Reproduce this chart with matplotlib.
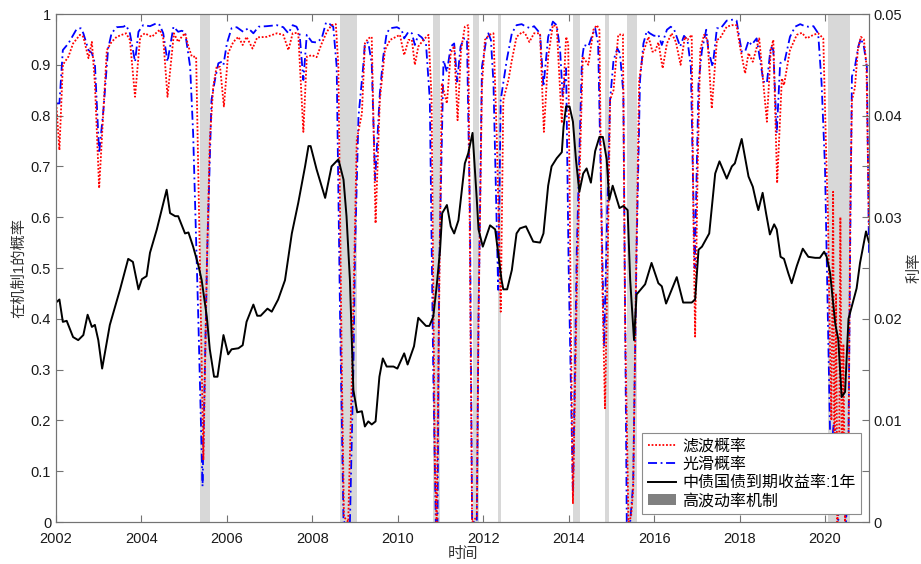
import numpy as np
import matplotlib
matplotlib.use('Agg')
import matplotlib.pyplot as plt
from matplotlib.patches import Patch
from matplotlib.lines import Line2D

plt.rcParams['font.family'] = ['Liberation Sans', 'Noto Sans CJK SC']

# 中债国债到期收益率:1年 (%)
rate_t = [2002.00, 2002.08, 2002.16, 2002.25, 2002.40, 2002.52, 2002.64, 2002.74, 2002.84, 2002.91,
          2002.99, 2003.08, 2003.26, 2003.50, 2003.69, 2003.80, 2003.93, 2004.01, 2004.12, 2004.20,
          2004.36, 2004.59, 2004.67, 2004.79, 2004.86, 2005.02, 2005.10, 2005.21, 2005.33, 2005.41,
          2005.53, 2005.60, 2005.70, 2005.78, 2005.92, 2006.03, 2006.11, 2006.27, 2006.37, 2006.46,
          2006.62, 2006.71, 2006.79, 2006.95, 2007.05, 2007.20, 2007.36, 2007.52, 2007.67, 2007.83,
          2007.91, 2007.96, 2008.10, 2008.30, 2008.45, 2008.61, 2008.73, 2008.80, 2008.88, 2008.96,
          2009.05, 2009.16, 2009.23, 2009.31, 2009.39, 2009.48, 2009.57, 2009.65, 2009.74, 2009.90,
          2009.99, 2010.15, 2010.23, 2010.38, 2010.48, 2010.66, 2010.74, 2010.83, 2010.91, 2010.99,
          2011.04, 2011.15, 2011.24, 2011.32, 2011.42, 2011.50, 2011.57, 2011.65, 2011.75, 2011.85,
          2011.89, 2011.99, 2012.16, 2012.28, 2012.35, 2012.43, 2012.47, 2012.56, 2012.67, 2012.78,
          2012.86, 2013.00, 2013.17, 2013.33, 2013.41, 2013.52, 2013.60, 2013.72, 2013.84, 2013.88,
          2013.94, 2014.02, 2014.10, 2014.17, 2014.25, 2014.34, 2014.42, 2014.52, 2014.62, 2014.72,
          2014.80, 2014.89, 2014.95, 2015.03, 2015.19, 2015.28, 2015.38, 2015.44, 2015.53, 2015.59,
          2015.79, 2015.94, 2016.10, 2016.18, 2016.28, 2016.53, 2016.68, 2016.88, 2016.96, 2017.04,
          2017.12, 2017.29, 2017.43, 2017.53, 2017.70, 2017.82, 2017.89, 2018.05, 2018.21, 2018.31,
          2018.39, 2018.44, 2018.54, 2018.62, 2018.71, 2018.81, 2018.87, 2018.96, 2019.04, 2019.14,
          2019.22, 2019.34, 2019.48, 2019.61, 2019.77, 2019.88, 2019.98, 2020.04, 2020.12, 2020.24,
          2020.31, 2020.39, 2020.47, 2020.55, 2020.74, 2020.82, 2020.96, 2021.03]
rate_pct = [2.16, 2.19, 1.97, 1.98, 1.82, 1.79, 1.84, 2.04, 1.92, 1.94,
            1.79, 1.51, 1.94, 2.29, 2.59, 2.56, 2.29, 2.39, 2.42, 2.65,
            2.88, 3.27, 3.04, 3.01, 3.01, 2.84, 2.85, 2.71, 2.53, 2.38,
            2.02, 1.70, 1.43, 1.43, 1.84, 1.65, 1.70, 1.71, 1.74, 1.97,
            2.14, 2.03, 2.03, 2.10, 2.07, 2.19, 2.38, 2.84, 3.14, 3.50,
            3.70, 3.70, 3.47, 3.19, 3.50, 3.57, 3.37, 3.01, 2.38, 1.30,
            1.08, 1.09, 0.94, 0.99, 0.96, 0.99, 1.43, 1.61, 1.53, 1.53,
            1.51, 1.66, 1.55, 1.73, 2.01, 1.93, 1.93, 2.02, 2.32, 2.68,
            3.04, 3.12, 2.91, 2.84, 2.97, 3.27, 3.53, 3.63, 3.83, 3.17,
            2.88, 2.71, 2.92, 2.88, 2.65, 2.38, 2.29, 2.29, 2.48, 2.84,
            2.89, 2.91, 2.76, 2.75, 2.84, 3.31, 3.50, 3.58, 3.64, 3.89,
            4.09, 4.09, 3.94, 3.57, 3.25, 3.43, 3.48, 3.34, 3.65, 3.79,
            3.79, 3.57, 3.17, 3.31, 3.09, 3.11, 3.07, 2.38, 1.79, 2.24,
            2.34, 2.55, 2.35, 2.32, 2.15, 2.41, 2.16, 2.16, 2.19, 2.68,
            2.71, 2.84, 3.43, 3.55, 3.38, 3.50, 3.53, 3.77, 3.40, 3.30,
            3.15, 3.07, 3.24, 3.04, 2.83, 2.93, 2.88, 2.61, 2.59, 2.45,
            2.35, 2.52, 2.69, 2.61, 2.60, 2.60, 2.66, 2.61, 2.45, 1.95,
            1.80, 1.23, 1.28, 2.00, 2.30, 2.55, 2.86, 2.75]

# 光滑概率
smooth_t = [2002.00, 2002.08, 2002.16, 2002.29, 2002.48, 2002.58, 2002.64, 2002.76, 2002.84, 2002.91,
            2003.01, 2003.11, 2003.22, 2003.30, 2003.42, 2003.58, 2003.64, 2003.73, 2003.85, 2003.93,
            2004.04, 2004.20, 2004.36, 2004.43, 2004.51, 2004.61, 2004.75, 2004.86, 2004.94, 2005.02,
            2005.14, 2005.21, 2005.33, 2005.43, 2005.54, 2005.64, 2005.72, 2005.80, 2005.88, 2005.92,
            2006.00, 2006.11, 2006.23, 2006.38, 2006.50, 2006.62, 2006.74, 2006.93, 2007.17, 2007.32,
            2007.44, 2007.54, 2007.63, 2007.70, 2007.79, 2007.87, 2007.99, 2008.10, 2008.22, 2008.32,
            2008.41, 2008.49, 2008.57, 2008.65, 2008.73, 2008.88, 2008.96, 2009.00, 2009.08, 2009.19,
            2009.23, 2009.31, 2009.39, 2009.47, 2009.58, 2009.66, 2009.74, 2009.82, 2009.98, 2010.09,
            2010.15, 2010.25, 2010.33, 2010.40, 2010.48, 2010.56, 2010.66, 2010.75, 2010.83, 2010.89,
            2010.93, 2010.97, 2011.07, 2011.15, 2011.24, 2011.32, 2011.39, 2011.47, 2011.55, 2011.62,
            2011.69, 2011.74, 2011.85, 2011.89, 2011.97, 2012.07, 2012.12, 2012.18, 2012.24, 2012.35,
            2012.41, 2012.55, 2012.67, 2012.78, 2012.90, 2012.98, 2013.10, 2013.19, 2013.33, 2013.41,
            2013.52, 2013.63, 2013.72, 2013.80, 2013.86, 2013.94, 2014.00, 2014.10, 2014.19, 2014.31,
            2014.36, 2014.46, 2014.54, 2014.62, 2014.69, 2014.77, 2014.83, 2014.90, 2014.97, 2015.05,
            2015.14, 2015.20, 2015.28, 2015.36, 2015.44, 2015.51, 2015.59, 2015.67, 2015.75, 2015.83,
            2015.90, 2016.00, 2016.10, 2016.18, 2016.30, 2016.39, 2016.47, 2016.61, 2016.70, 2016.78,
            2016.86, 2016.95, 2017.04, 2017.12, 2017.22, 2017.27, 2017.37, 2017.47, 2017.56, 2017.70,
            2017.85, 2017.93, 2018.05, 2018.13, 2018.21, 2018.28, 2018.40, 2018.56, 2018.64, 2018.73,
            2018.79, 2018.87, 2018.95, 2019.06, 2019.18, 2019.30, 2019.42, 2019.53, 2019.61, 2019.73,
            2019.84, 2019.92, 2020.00, 2020.08, 2020.12, 2020.16, 2020.20, 2020.24, 2020.31, 2020.35,
            2020.39, 2020.43, 2020.49, 2020.54, 2020.59, 2020.63, 2020.70, 2020.78, 2020.84, 2020.91,
            2020.98, 2021.03]
smooth_p = [0.824, 0.824, 0.929, 0.942, 0.970, 0.972, 0.962, 0.929, 0.923, 0.903,
            0.726, 0.811, 0.932, 0.962, 0.974, 0.975, 0.978, 0.962, 0.906, 0.965,
            0.978, 0.976, 0.982, 0.978, 0.962, 0.906, 0.975, 0.965, 0.967, 0.965,
            0.896, 0.765, 0.404, 0.070, 0.535, 0.831, 0.870, 0.903, 0.906, 0.900,
            0.942, 0.972, 0.974, 0.965, 0.972, 0.962, 0.975, 0.976, 0.978, 0.974,
            0.962, 0.978, 0.975, 0.962, 0.870, 0.959, 0.945, 0.944, 0.952, 0.983,
            0.980, 0.975, 0.896, 0.400, 0.000, 0.000, 0.300, 0.535, 0.798, 0.896,
            0.942, 0.944, 0.903, 0.673, 0.844, 0.916, 0.962, 0.972, 0.974, 0.969,
            0.952, 0.965, 0.962, 0.939, 0.959, 0.954, 0.942, 0.831, 0.300, 0.000,
            0.000, 0.500, 0.909, 0.886, 0.936, 0.942, 0.867, 0.936, 0.952, 0.950,
            0.600, 0.000, 0.000, 0.400, 0.896, 0.949, 0.962, 0.949, 0.864, 0.457,
            0.831, 0.909, 0.962, 0.978, 0.980, 0.976, 0.972, 0.976, 0.962, 0.857,
            0.955, 0.985, 0.978, 0.929, 0.837, 0.893, 0.500, 0.053, 0.535, 0.909,
            0.939, 0.936, 0.955, 0.972, 0.942, 0.600, 0.345, 0.600, 0.831, 0.909,
            0.932, 0.923, 0.844, 0.000, 0.000, 0.076, 0.535, 0.870, 0.942, 0.967,
            0.962, 0.957, 0.959, 0.939, 0.969, 0.975, 0.969, 0.936, 0.957, 0.949,
            0.896, 0.500, 0.864, 0.929, 0.969, 0.929, 0.896, 0.972, 0.972, 0.987,
            0.989, 0.987, 0.926, 0.926, 0.947, 0.939, 0.952, 0.867, 0.864, 0.936,
            0.929, 0.765, 0.903, 0.909, 0.955, 0.975, 0.980, 0.976, 0.975, 0.976,
            0.962, 0.864, 0.699, 0.350, 0.168, 0.152, 0.190, 0.190, 0.004, 0.120,
            0.161, 0.080, 0.000, 0.060, 0.550, 0.877, 0.896, 0.936, 0.952, 0.936,
            0.896, 0.530]

# 滤波概率
filt_t = [2002.00, 2002.08, 2002.16, 2002.29, 2002.40, 2002.56, 2002.64, 2002.76, 2002.84, 2002.91,
          2003.01, 2003.11, 2003.19, 2003.30, 2003.42, 2003.54, 2003.64, 2003.73, 2003.85, 2003.97,
          2004.08, 2004.24, 2004.43, 2004.51, 2004.61, 2004.76, 2004.86, 2004.94, 2005.02, 2005.10,
          2005.18, 2005.28, 2005.35, 2005.45, 2005.53, 2005.60, 2005.68, 2005.76, 2005.84, 2005.93,
          2006.03, 2006.15, 2006.27, 2006.37, 2006.46, 2006.60, 2006.71, 2006.93, 2007.17, 2007.32,
          2007.44, 2007.54, 2007.67, 2007.79, 2007.87, 2007.99, 2008.10, 2008.22, 2008.34, 2008.45,
          2008.55, 2008.61, 2008.69, 2008.74, 2008.84, 2008.93, 2009.04, 2009.16, 2009.23, 2009.31,
          2009.39, 2009.48, 2009.58, 2009.70, 2009.82, 2010.05, 2010.15, 2010.25, 2010.33, 2010.40,
          2010.48, 2010.60, 2010.72, 2010.79, 2010.87, 2010.91, 2010.95, 2011.03, 2011.15, 2011.24,
          2011.32, 2011.40, 2011.48, 2011.57, 2011.65, 2011.70, 2011.74, 2011.85, 2011.89, 2011.97,
          2012.04, 2012.14, 2012.24, 2012.32, 2012.41, 2012.47, 2012.59, 2012.67, 2012.78, 2012.92,
          2012.98, 2013.08, 2013.19, 2013.33, 2013.42, 2013.52, 2013.63, 2013.72, 2013.84, 2013.94,
          2013.99, 2014.05, 2014.10, 2014.20, 2014.33, 2014.46, 2014.58, 2014.66, 2014.72, 2014.78,
          2014.85, 2014.92, 2014.97, 2015.05, 2015.16, 2015.27, 2015.32, 2015.40, 2015.46, 2015.51,
          2015.58, 2015.65, 2015.75, 2015.87, 2015.96, 2016.02, 2016.10, 2016.20, 2016.30, 2016.41,
          2016.51, 2016.62, 2016.72, 2016.78, 2016.88, 2016.92, 2016.96, 2017.02, 2017.08, 2017.17,
          2017.25, 2017.35, 2017.47, 2017.54, 2017.70, 2017.82, 2017.93, 2018.01, 2018.13, 2018.21,
          2018.31, 2018.46, 2018.64, 2018.73, 2018.79, 2018.88, 2018.99, 2019.04, 2019.18, 2019.34,
          2019.46, 2019.57, 2019.73, 2019.84, 2019.96, 2020.02, 2020.07, 2020.12, 2020.15, 2020.19,
          2020.22, 2020.26, 2020.29, 2020.33, 2020.36, 2020.40, 2020.43, 2020.47, 2020.50, 2020.54,
          2020.59, 2020.63, 2020.70, 2020.77, 2020.84, 2020.91, 2020.97, 2021.03]
filt_p = [0.831, 0.732, 0.900, 0.916, 0.942, 0.959, 0.955, 0.913, 0.945, 0.864,
          0.657, 0.811, 0.929, 0.945, 0.955, 0.959, 0.962, 0.949, 0.837, 0.955,
          0.962, 0.955, 0.969, 0.952, 0.837, 0.962, 0.945, 0.955, 0.962, 0.936,
          0.916, 0.916, 0.600, 0.122, 0.500, 0.750, 0.857, 0.896, 0.896, 0.818,
          0.923, 0.945, 0.955, 0.939, 0.955, 0.932, 0.954, 0.955, 0.962, 0.959,
          0.929, 0.962, 0.963, 0.768, 0.916, 0.919, 0.915, 0.942, 0.965, 0.978,
          0.980, 0.896, 0.300, 0.010, 0.000, 0.300, 0.752, 0.804, 0.942, 0.952,
          0.955, 0.588, 0.831, 0.929, 0.949, 0.959, 0.919, 0.949, 0.949, 0.900,
          0.936, 0.949, 0.959, 0.837, 0.100, 0.000, 0.300, 0.864, 0.824, 0.923,
          0.937, 0.791, 0.929, 0.975, 0.978, 0.400, 0.000, 0.010, 0.400, 0.857,
          0.949, 0.959, 0.962, 0.750, 0.414, 0.831, 0.870, 0.909, 0.955, 0.965,
          0.962, 0.945, 0.962, 0.962, 0.768, 0.916, 0.978, 0.976, 0.785, 0.955,
          0.942, 0.400, 0.037, 0.500, 0.916, 0.900, 0.969, 0.978, 0.969, 0.500,
          0.224, 0.550, 0.831, 0.850, 0.959, 0.960, 0.400, 0.000, 0.010, 0.063,
          0.500, 0.870, 0.926, 0.955, 0.926, 0.926, 0.944, 0.893, 0.942, 0.962,
          0.945, 0.900, 0.955, 0.949, 0.959, 0.600, 0.365, 0.700, 0.929, 0.959,
          0.949, 0.814, 0.949, 0.952, 0.975, 0.978, 0.978, 0.936, 0.883, 0.923,
          0.906, 0.952, 0.788, 0.929, 0.949, 0.667, 0.873, 0.860, 0.929, 0.959,
          0.963, 0.952, 0.959, 0.962, 0.952, 0.750, 0.600, 0.330, 0.200, 0.650,
          0.050, 0.450, 0.000, 0.120, 0.600, 0.020, 0.350, 0.000, 0.150, 0.020,
          0.600, 0.830, 0.855, 0.930, 0.955, 0.950, 0.900, 0.580]

# 高波动率机制 (start, end)
regime_start = [2005.36, 2008.64, 2010.82, 2011.76, 2012.34, 2014.11, 2014.86, 2015.36, 2020.08]
regime_end = [2005.60, 2009.04, 2010.98, 2011.91, 2012.41, 2014.27, 2014.94, 2015.61, 2020.58]

fig = plt.figure(figsize=(9.21, 5.64), dpi=100)
ax = fig.add_axes([56 / 921, 1 - 522 / 564, 813 / 921, 508 / 564])
ax2 = ax.twinx()

for s, e in zip(regime_start, regime_end):
    ax.axvspan(s, e, color='0.5', alpha=0.3, lw=0, zorder=0)

ax.plot(filt_t, filt_p, color='red', ls=(0, (1, 1)), lw=1.3, zorder=3)
ax.plot(smooth_t, smooth_p, color='blue', ls=(0, (5, 2, 1, 2)), lw=1.3, zorder=2)
ax2.plot(rate_t, np.array(rate_pct) / 100, color='black', lw=1.4)

axis_col = '0.45'
ax.set_xlim(2002, 2021.03)
ax.set_ylim(0, 1)
ax2.set_ylim(0, 0.05)
ax.set_xticks(np.arange(2002, 2021, 2))
ax.set_yticks(np.arange(0, 1.01, 0.1))
ax.set_yticklabels(['0'] + ['%.1f' % v for v in np.arange(0.1, 0.95, 0.1)] + ['1'])
ax2.set_yticks(np.arange(0, 0.051, 0.01))
ax2.set_yticklabels(['0', '0.01', '0.02', '0.03', '0.04', '0.05'])
ax2.set_yticks(np.arange(0.005, 0.05, 0.01), minor=True)

ax.tick_params(axis='both', direction='in', length=5, width=0.8, color=axis_col,
               labelsize=10.5, labelcolor='#1a1a1a', top=True, right=False)
ax.tick_params(axis='x', pad=7)
ax2.tick_params(axis='y', which='both', direction='in', length=5, width=0.8, color=axis_col,
                labelsize=10.5, labelcolor='#1a1a1a')
for a in (ax, ax2):
    for sp in a.spines.values():
        sp.set_color(axis_col)
        sp.set_linewidth(0.8)

ax.set_xlabel('时间', fontsize=11, color='#333333', labelpad=1)
ax.set_ylabel('在机制1的概率', fontsize=11, color='#333333', labelpad=3)
ax2.set_ylabel('利率', fontsize=11, color='#333333', rotation=90, labelpad=4)

handles = [Line2D([], [], color='red', ls=(0, (1, 1)), lw=1.3),
           Line2D([], [], color='blue', ls=(0, (5, 2, 1, 2)), lw=1.3),
           Line2D([], [], color='black', lw=1.4),
           Patch(facecolor='0.5', edgecolor='none')]
labels = ['滤波概率', '光滑概率', '中债国债到期收益率:1年', '高波动率机制']
leg = ax2.legend(handles, labels, loc='lower right', fontsize=11.5, fancybox=False,
                 edgecolor='0.55', framealpha=1, handlelength=1.8, handletextpad=0.35,
                 borderpad=0.35, labelspacing=0.2, borderaxespad=0.5)
leg.get_frame().set_linewidth(0.8)

fig.savefig('out.png', dpi=100)
